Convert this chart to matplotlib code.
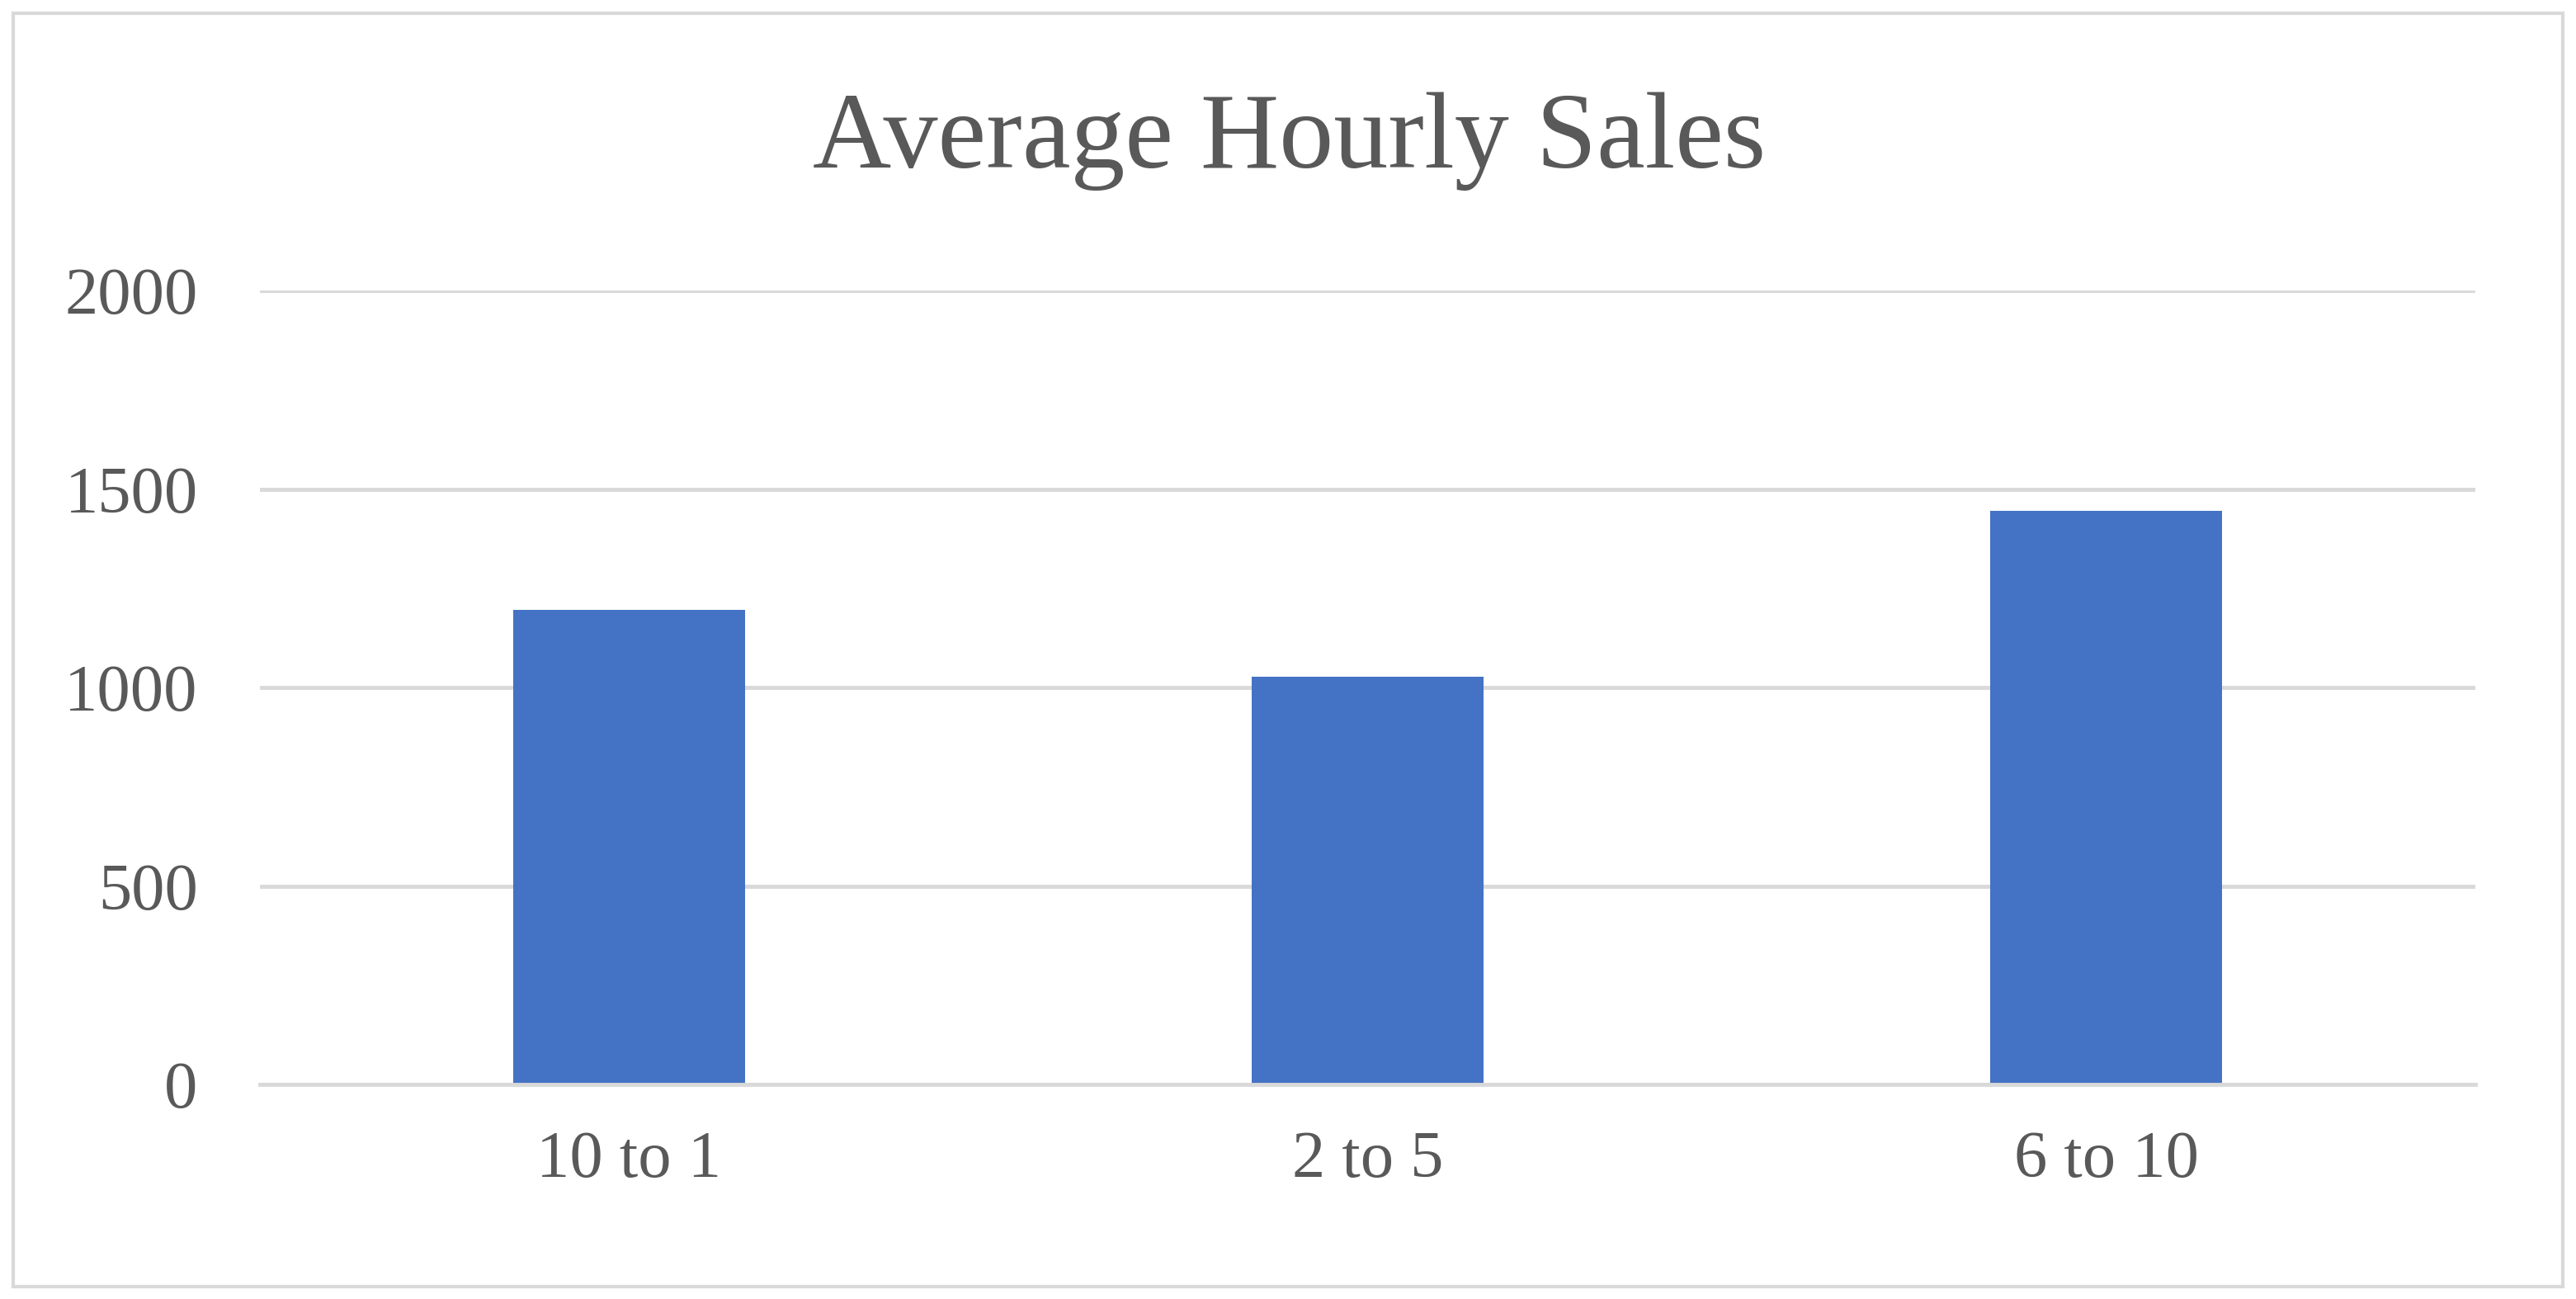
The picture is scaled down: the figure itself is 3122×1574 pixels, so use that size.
import matplotlib
matplotlib.use("Agg")
import matplotlib.pyplot as plt
from matplotlib.patches import Rectangle

categories = ["10 to 1", "2 to 5", "6 to 10"]
sales = [1195, 1027, 1444]
yticks = [0, 500, 1000, 1500, 2000]

plt.rcParams['font.family'] = ['Liberation Serif', 'DejaVu Serif']
text_color = '#595959'
grid_color = '#D9D9D9'

fig = plt.figure(figsize=(31.22, 15.74), dpi=100)
ax = fig.add_axes([0.1008, 0.165, 0.8602, 0.6114])

x = range(len(categories))
ax.bar(x, sales, width=0.314, color='#4472C4', zorder=3)

ax.set_xlim(-0.5, 2.5)
ax.set_ylim(0, 2000)
ax.set_yticks(yticks)
ax.set_xticks(list(x))
ax.set_xticklabels(categories)
ax.yaxis.grid(True, color=grid_color, linewidth=3.5, zorder=0)
ax.tick_params(axis='both', length=0, labelsize=58, labelcolor=text_color)
ax.tick_params(axis='y', pad=54)
ax.tick_params(axis='x', pad=40)
for s in ['top', 'right', 'left']:
    ax.spines[s].set_visible(False)
ax.spines['bottom'].set_color(grid_color)
ax.spines['bottom'].set_linewidth(3.5)
ax.spines['bottom'].set_zorder(4)

fig.text(0.5005, 0.891, "Average Hourly Sales", ha='center', va='center',
         fontsize=95, color=text_color)

# outer chart border
fig.patches.append(Rectangle((16 / 3122, 1 - 1559 / 1574), (3106 - 16) / 3122, (1559 - 16) / 1574,
                             transform=fig.transFigure, fill=False,
                             edgecolor=grid_color, linewidth=3))

fig.savefig("out.png", dpi=100, facecolor='white')
